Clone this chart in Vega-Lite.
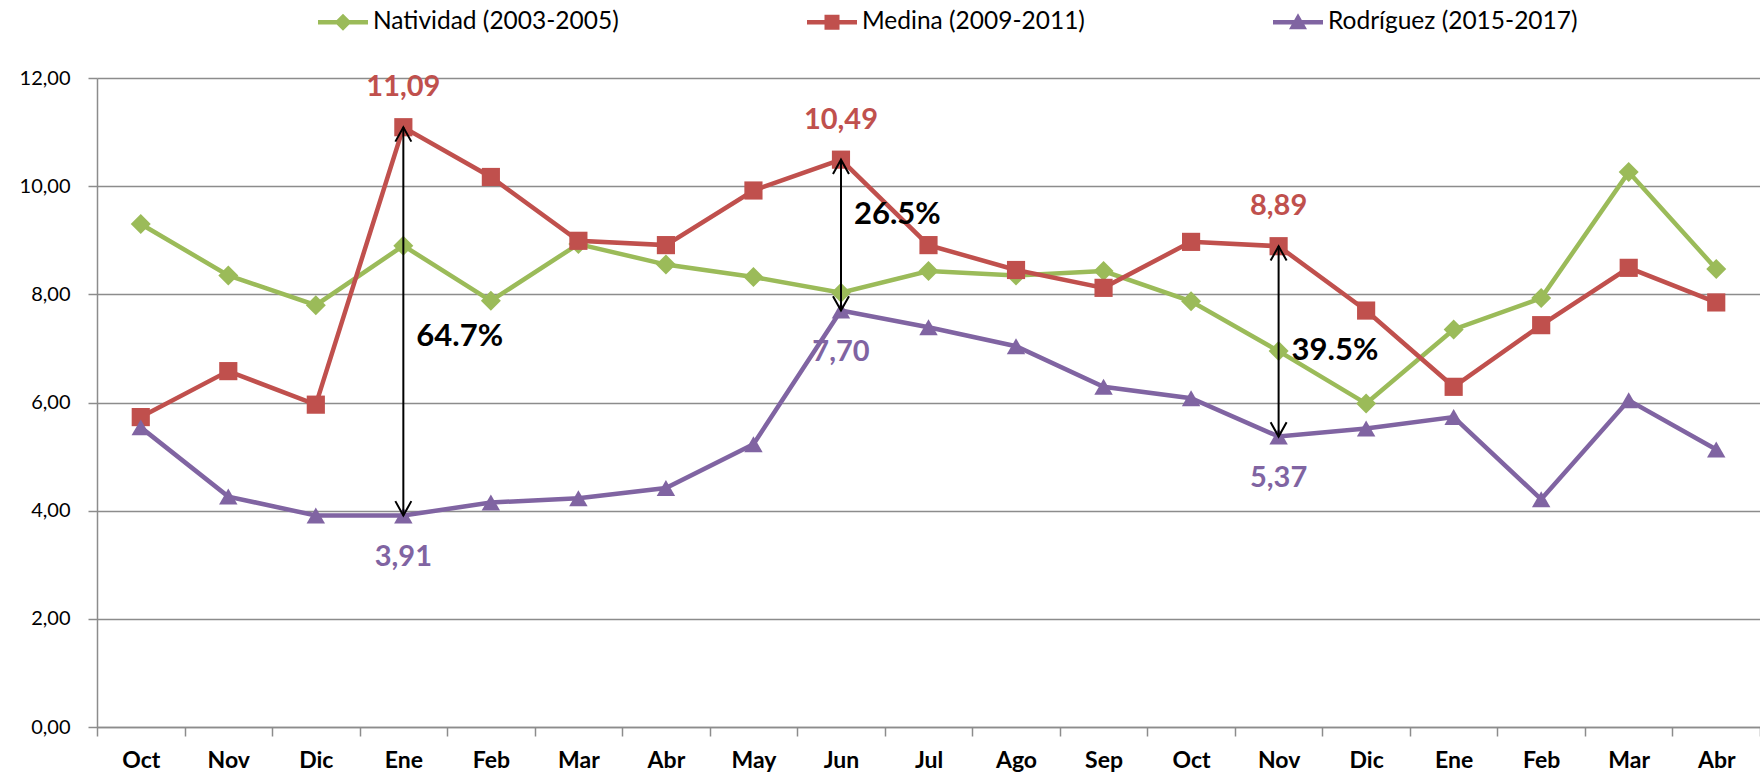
{
  "$schema": "https://vega.github.io/schema/vega-lite/v6.json",
  "width": 1663,
  "height": 649,
  "autosize": {"type": "none"},
  "padding": {"left": 97, "top": 78, "right": 0, "bottom": 48},
  "background": "white",
  "config": {
    "font": "Lato",
    "view": {"stroke": null},
    "axis": {
      "domainColor": "#8c8c8c",
      "domainWidth": 1.5,
      "tickColor": "#8c8c8c",
      "tickWidth": 1.5,
      "tickSize": 9,
      "gridColor": "#8c8c8c",
      "gridWidth": 1.5,
      "labelColor": "#000000",
      "labelFont": "Lato",
      "title": null
    }
  },
  "datasets": {
    "main": [
      {"mes": "Oct-1", "serie": "Natividad (2003-2005)", "valor": 9.30},
      {"mes": "Nov-1", "serie": "Natividad (2003-2005)", "valor": 8.35},
      {"mes": "Dic-1", "serie": "Natividad (2003-2005)", "valor": 7.80},
      {"mes": "Ene-1", "serie": "Natividad (2003-2005)", "valor": 8.90},
      {"mes": "Feb-1", "serie": "Natividad (2003-2005)", "valor": 7.88},
      {"mes": "Mar-1", "serie": "Natividad (2003-2005)", "valor": 8.93},
      {"mes": "Abr-1", "serie": "Natividad (2003-2005)", "valor": 8.55},
      {"mes": "May-1", "serie": "Natividad (2003-2005)", "valor": 8.32},
      {"mes": "Jun-1", "serie": "Natividad (2003-2005)", "valor": 8.03},
      {"mes": "Jul-1", "serie": "Natividad (2003-2005)", "valor": 8.43},
      {"mes": "Ago-1", "serie": "Natividad (2003-2005)", "valor": 8.35},
      {"mes": "Sep-1", "serie": "Natividad (2003-2005)", "valor": 8.43},
      {"mes": "Oct-2", "serie": "Natividad (2003-2005)", "valor": 7.87},
      {"mes": "Nov-2", "serie": "Natividad (2003-2005)", "valor": 6.95},
      {"mes": "Dic-2", "serie": "Natividad (2003-2005)", "valor": 5.98},
      {"mes": "Ene-2", "serie": "Natividad (2003-2005)", "valor": 7.35},
      {"mes": "Feb-2", "serie": "Natividad (2003-2005)", "valor": 7.93},
      {"mes": "Mar-2", "serie": "Natividad (2003-2005)", "valor": 10.26},
      {"mes": "Abr-2", "serie": "Natividad (2003-2005)", "valor": 8.47},
      {"mes": "Oct-1", "serie": "Medina (2009-2011)", "valor": 5.73},
      {"mes": "Nov-1", "serie": "Medina (2009-2011)", "valor": 6.58},
      {"mes": "Dic-1", "serie": "Medina (2009-2011)", "valor": 5.96},
      {"mes": "Ene-1", "serie": "Medina (2009-2011)", "valor": 11.09},
      {"mes": "Feb-1", "serie": "Medina (2009-2011)", "valor": 10.17},
      {"mes": "Mar-1", "serie": "Medina (2009-2011)", "valor": 8.99},
      {"mes": "Abr-1", "serie": "Medina (2009-2011)", "valor": 8.91},
      {"mes": "May-1", "serie": "Medina (2009-2011)", "valor": 9.92},
      {"mes": "Jun-1", "serie": "Medina (2009-2011)", "valor": 10.49},
      {"mes": "Jul-1", "serie": "Medina (2009-2011)", "valor": 8.91},
      {"mes": "Ago-1", "serie": "Medina (2009-2011)", "valor": 8.45},
      {"mes": "Sep-1", "serie": "Medina (2009-2011)", "valor": 8.12},
      {"mes": "Oct-2", "serie": "Medina (2009-2011)", "valor": 8.97},
      {"mes": "Nov-2", "serie": "Medina (2009-2011)", "valor": 8.89},
      {"mes": "Dic-2", "serie": "Medina (2009-2011)", "valor": 7.70},
      {"mes": "Ene-2", "serie": "Medina (2009-2011)", "valor": 6.29},
      {"mes": "Feb-2", "serie": "Medina (2009-2011)", "valor": 7.43},
      {"mes": "Mar-2", "serie": "Medina (2009-2011)", "valor": 8.49},
      {"mes": "Abr-2", "serie": "Medina (2009-2011)", "valor": 7.85},
      {"mes": "Oct-1", "serie": "Rodríguez (2015-2017)", "valor": 5.54},
      {"mes": "Nov-1", "serie": "Rodríguez (2015-2017)", "valor": 4.26},
      {"mes": "Dic-1", "serie": "Rodríguez (2015-2017)", "valor": 3.91},
      {"mes": "Ene-1", "serie": "Rodríguez (2015-2017)", "valor": 3.91},
      {"mes": "Feb-1", "serie": "Rodríguez (2015-2017)", "valor": 4.15},
      {"mes": "Mar-1", "serie": "Rodríguez (2015-2017)", "valor": 4.23},
      {"mes": "Abr-1", "serie": "Rodríguez (2015-2017)", "valor": 4.42},
      {"mes": "May-1", "serie": "Rodríguez (2015-2017)", "valor": 5.23},
      {"mes": "Jun-1", "serie": "Rodríguez (2015-2017)", "valor": 7.70},
      {"mes": "Jul-1", "serie": "Rodríguez (2015-2017)", "valor": 7.39},
      {"mes": "Ago-1", "serie": "Rodríguez (2015-2017)", "valor": 7.04},
      {"mes": "Sep-1", "serie": "Rodríguez (2015-2017)", "valor": 6.29},
      {"mes": "Oct-2", "serie": "Rodríguez (2015-2017)", "valor": 6.08},
      {"mes": "Nov-2", "serie": "Rodríguez (2015-2017)", "valor": 5.37},
      {"mes": "Dic-2", "serie": "Rodríguez (2015-2017)", "valor": 5.52},
      {"mes": "Ene-2", "serie": "Rodríguez (2015-2017)", "valor": 5.73},
      {"mes": "Feb-2", "serie": "Rodríguez (2015-2017)", "valor": 4.21},
      {"mes": "Mar-2", "serie": "Rodríguez (2015-2017)", "valor": 6.04},
      {"mes": "Abr-2", "serie": "Rodríguez (2015-2017)", "valor": 5.13}
    ],
    "arrows": [
      {"mes": "Ene-1", "top": 11.09, "bottom": 3.91, "pct": "64.7%", "pctY": 7.22},
      {"mes": "Jun-1", "top": 10.49, "bottom": 7.70, "pct": "26.5%", "pctY": 9.47},
      {"mes": "Nov-2", "top": 8.89, "bottom": 5.37, "pct": "39.5%", "pctY": 6.95}
    ]
  },
  "layer": [
    {
      "data": {"name": "main"},
      "mark": {"type": "line", "strokeWidth": 4.5},
      "encoding": {
        "x": {
          "field": "mes", "type": "nominal",
          "scale": {"type": "band", "paddingInner": 0, "paddingOuter": 0,
            "domain": ["Oct-1","Nov-1","Dic-1","Ene-1","Feb-1","Mar-1","Abr-1","May-1","Jun-1","Jul-1","Ago-1","Sep-1","Oct-2","Nov-2","Dic-2","Ene-2","Feb-2","Mar-2","Abr-2"]},
          "axis": {
            "orient": "bottom", "tickBand": "extent", "grid": false,
            "labelExpr": "split(datum.label, '-')[0]",
            "labelFontSize": 23, "labelFontWeight": "bold", "labelPadding": 13, "labelAngle": 0
          }
        },
        "y": {
          "field": "valor", "type": "quantitative",
          "scale": {"domain": [0, 12], "nice": false, "zero": true},
          "axis": {
            "values": [0, 2, 4, 6, 8, 10, 12], "grid": true,
            "labelExpr": "replace(format(datum.value, '.2f'), '.', ',')",
            "labelFontSize": 20, "labelPadding": 18
          }
        },
        "color": {
          "field": "serie", "type": "nominal",
          "scale": {
            "domain": ["Natividad (2003-2005)", "Medina (2009-2011)", "Rodríguez (2015-2017)"],
            "range": ["#9BBB59", "#C0504D", "#8064A2"]
          },
          "legend": {
            "orient": "none", "legendX": 221, "legendY": -81, "direction": "horizontal",
            "title": null, "padding": 0, "symbolSize": 2500, "labelFontSize": 24.5,
            "labelFont": "Lato", "labelColor": "#000000", "labelOffset": 5, "columnPadding": 188,
            "labelLimit": 400,
            "encode": {
              "symbols": {
                "update": {
                  "shape": {"signal": "datum.value === 'Natividad (2003-2005)' ? 'M-1,-0.09H1V0.09H-1Z M0,-0.34L0.34,0L0,0.34L-0.34,0Z' : (datum.value === 'Medina (2009-2011)' ? 'M-1,-0.09H1V0.09H-1Z M-0.3,-0.3H0.3V0.3H-0.3Z' : 'M-1,-0.09H1V0.09H-1Z M0,-0.36L0.36,0.28H-0.36Z')"},
                  "fill": {"scale": "color", "field": "value"},
                  "fillOpacity": {"value": 1},
                  "strokeWidth": {"value": 0},
                  "opacity": {"value": 1}
                }
              }
            }
          }
        }
      }
    },
    {
      "data": {"name": "main"},
      "transform": [{"filter": "datum.serie === 'Natividad (2003-2005)'"}],
      "mark": {"type": "point", "filled": true, "size": 400, "opacity": 1, "shape": "diamond", "color": "#9BBB59"},
      "encoding": {
        "x": {"field": "mes", "type": "nominal"},
        "y": {"field": "valor", "type": "quantitative"}
      }
    },
    {
      "data": {"name": "main"},
      "transform": [{"filter": "datum.serie === 'Medina (2009-2011)'"}],
      "mark": {"type": "point", "filled": true, "size": 330, "opacity": 1, "shape": "square", "color": "#C0504D"},
      "encoding": {
        "x": {"field": "mes", "type": "nominal"},
        "y": {"field": "valor", "type": "quantitative"}
      }
    },
    {
      "data": {"name": "main"},
      "transform": [{"filter": "datum.serie === 'Rodríguez (2015-2017)'"}],
      "mark": {"type": "point", "filled": true, "size": 340, "opacity": 1, "shape": "triangle-up", "color": "#8064A2"},
      "encoding": {
        "x": {"field": "mes", "type": "nominal"},
        "y": {"field": "valor", "type": "quantitative"}
      }
    },
    {
      "data": {"name": "arrows"},
      "mark": {"type": "rule", "color": "#000000", "strokeWidth": 2},
      "encoding": {
        "x": {"field": "mes", "type": "nominal"},
        "y": {"field": "top", "type": "quantitative"},
        "y2": {"field": "bottom"}
      }
    },
    {
      "data": {"name": "arrows"},
      "mark": {"type": "point", "shape": "M-1,1.8L0,0L1,1.8", "size": 256, "filled": false, "stroke": "#000000", "strokeWidth": 2, "opacity": 1},
      "encoding": {
        "x": {"field": "mes", "type": "nominal"},
        "y": {"field": "top", "type": "quantitative"}
      }
    },
    {
      "data": {"name": "arrows"},
      "mark": {"type": "point", "shape": "M-1,-1.8L0,0L1,-1.8", "size": 256, "filled": false, "stroke": "#000000", "strokeWidth": 2, "opacity": 1},
      "encoding": {
        "x": {"field": "mes", "type": "nominal"},
        "y": {"field": "bottom", "type": "quantitative"}
      }
    },
    {
      "data": {"name": "arrows"},
      "mark": {"type": "text", "align": "left", "baseline": "middle", "dx": 13, "fontSize": 31, "fontWeight": "bold", "color": "#000000", "font": "Lato"},
      "encoding": {
        "x": {"field": "mes", "type": "nominal"},
        "y": {"field": "pctY", "type": "quantitative"},
        "text": {"field": "pct"}
      }
    },
    {
      "data": {"name": "main"},
      "transform": [
        {"filter": "datum.serie === 'Medina (2009-2011)' && indexof(['Ene-1','Jun-1','Nov-2'], datum.mes) >= 0"},
        {"calculate": "replace(format(datum.valor, '.2f'), '.', ',')", "as": "etiqueta"}
      ],
      "mark": {"type": "text", "align": "center", "baseline": "middle", "dy": -40, "fontSize": 29, "fontWeight": "bold", "color": "#C0504D", "font": "Lato"},
      "encoding": {
        "x": {"field": "mes", "type": "nominal"},
        "y": {"field": "valor", "type": "quantitative"},
        "text": {"field": "etiqueta"}
      }
    },
    {
      "data": {"name": "main"},
      "transform": [
        {"filter": "datum.serie === 'Rodríguez (2015-2017)' && indexof(['Ene-1','Jun-1','Nov-2'], datum.mes) >= 0"},
        {"calculate": "replace(format(datum.valor, '.2f'), '.', ',')", "as": "etiqueta"}
      ],
      "mark": {"type": "text", "align": "center", "baseline": "middle", "dy": 41, "fontSize": 29, "fontWeight": "bold", "color": "#8064A2", "font": "Lato"},
      "encoding": {
        "x": {"field": "mes", "type": "nominal"},
        "y": {"field": "valor", "type": "quantitative"},
        "text": {"field": "etiqueta"}
      }
    }
  ]
}
